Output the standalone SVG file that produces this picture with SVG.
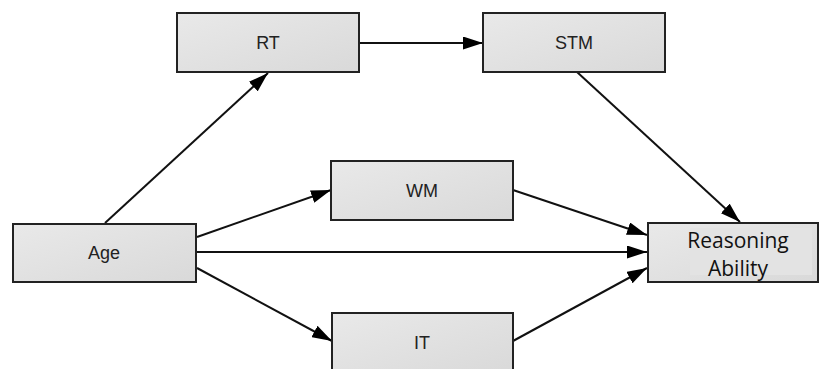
<svg xmlns="http://www.w3.org/2000/svg" width="820" height="369" viewBox="0 0 820 369">
<defs>
<linearGradient id="g" x1="0" y1="0" x2="1" y2="1">
<stop offset="0" stop-color="#e9e9e9"/>
<stop offset="1" stop-color="#d9d9d9"/>
</linearGradient>
<marker id="ah" viewBox="0 0 20 13" refX="20" refY="6.5" markerWidth="20" markerHeight="13" markerUnits="userSpaceOnUse" orient="auto">
<path d="M0,0 L20,6.5 L0,13 Z" fill="#000"/>
</marker>
<style>
.box{fill:url(#g);stroke:#222;stroke-width:2}
.lbl{font-family:"Liberation Sans",Arial,sans-serif;font-size:18px;fill:#222;text-anchor:middle}
.lbl2{font-family:"Open Sans","Liberation Sans",sans-serif;font-size:21px;fill:#111;text-anchor:middle}
.c{stroke:#111;stroke-width:2;fill:none;marker-end:url(#ah)}
</style>
</defs>
<g id="connectors">
<line class="c" x1="105" y1="223" x2="268" y2="73"/>
<line class="c" x1="359" y1="43" x2="483" y2="43"/>
<line class="c" x1="197" y1="237" x2="331" y2="190"/>
<line class="c" x1="197" y1="252" x2="647" y2="252"/>
<line class="c" x1="197" y1="268" x2="332" y2="341"/>
<line class="c" x1="513" y1="190" x2="647" y2="235"/>
<line class="c" x1="513" y1="341" x2="647" y2="268"/>
<line class="c" x1="577" y1="72" x2="740" y2="222"/>
</g>
<g id="RT">
<rect class="box" x="177" y="13" width="182" height="59"/>
<text class="lbl" x="268" y="49">RT</text>
</g>
<g id="STM">
<rect class="box" x="483" y="13" width="182" height="59"/>
<text class="lbl" x="574" y="49">STM</text>
</g>
<g id="WM">
<rect class="box" x="331" y="161" width="182" height="59"/>
<text class="lbl" x="422" y="197">WM</text>
</g>
<g id="Age">
<rect class="box" x="13" y="224" width="183" height="58"/>
<text class="lbl" x="104" y="259">Age</text>
</g>
<g id="IT">
<rect class="box" x="332" y="313" width="181" height="60"/>
<text class="lbl" x="422" y="349">IT</text>
</g>
<g id="ReasoningAbility">
<rect class="box" x="648" y="223" width="170" height="59"/>
<rect x="690" y="228" width="122" height="47" fill="#e3e3e3"/>
<text class="lbl2" x="738" y="248">Reasoning</text>
<text class="lbl2" x="738" y="276">Ability</text>
</g>
</svg>
